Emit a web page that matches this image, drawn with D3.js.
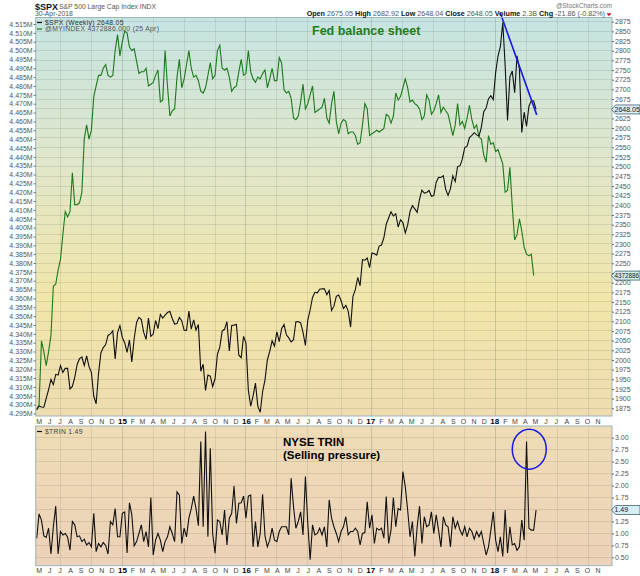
<!DOCTYPE html>
<html>
<head>
<meta charset="utf-8">
<title>$SPX vs Fed balance sheet</title>
<style>
  body { margin: 0; background: #fff; }
  svg { display: block; font-family: "Liberation Sans", Arial, sans-serif; }
</style>
</head>
<body>
<svg width="640" height="576"></svg>
<script src="https://cdn.jsdelivr.net/npm/d3@7"></script>
<script>
// weekly closes, S&P 500 (25 Apr 2014 .. week of 30 Apr 2018)
var spx = [
  1872, 1881.14, 1878.48, 1877.86, 1900.53, 1923.57, 1949.44, 1936.16, 1962.87, 1960.96,
  1985.44, 1967.57, 1978.22, 1978.34, 1925.15, 1931.59, 1955.06, 1988.40, 2003.37, 2007.71,
  1985.54, 2010.40, 1982.85, 1967.90, 1906.13, 1886.76, 1964.58, 2018.05, 2031.92, 2039.82,
  2063.50, 2067.56, 2075.37, 2002.33, 2070.65, 2088.77, 2058.20, 2044.81, 2019.42, 2051.82,
  1994.99, 2055.47, 2096.99, 2110.30, 2104.50, 2071.26, 2053.40, 2108.10, 2061.02, 2066.96,
  2102.06, 2081.18, 2117.69, 2108.29, 2116.10, 2122.73, 2126.06, 2107.39, 2092.83, 2094.11,
  2109.99, 2101.49, 2076.78, 2076.62, 2126.64, 2079.65, 2103.84, 2077.57, 2091.54, 1970.89,
  1988.87, 1921.22, 1961.05, 1958.03, 1931.34, 1951.36, 2014.89, 2033.11, 2075.15, 2079.36,
  2099.20, 2023.04, 2089.17, 2090.11, 2091.69, 2012.37, 2005.55, 2060.99, 2043.94, 1922.03,
  1880.33, 1906.90, 1940.24, 1880.05, 1864.78, 1917.78, 1948.05, 1999.99, 2022.19, 2049.58,
  2035.94, 2072.78, 2047.60, 2080.73, 2091.58, 2065.30, 2057.14, 2046.61, 2052.32, 2099.06,
  2099.13, 2096.07, 2071.22, 2037.41, 2102.95, 2129.90, 2161.74, 2175.03, 2173.60, 2182.87,
  2184.05, 2183.87, 2169.04, 2179.98, 2127.81, 2139.16, 2164.69, 2168.27, 2153.74, 2132.98,
  2141.16, 2126.41, 2085.18, 2164.45, 2181.90, 2213.35, 2191.95, 2259.53, 2258.07, 2263.79,
  2238.83, 2276.98, 2274.64, 2271.31, 2294.69, 2297.42, 2316.10, 2351.16, 2367.34, 2383.12,
  2372.60, 2378.25, 2343.98, 2362.72, 2355.54, 2328.95, 2348.69, 2384.20, 2399.29, 2390.90,
  2381.73, 2415.82, 2439.07, 2431.77, 2433.15, 2438.30, 2423.41, 2425.18, 2459.27, 2472.54,
  2472.10, 2476.83, 2441.32, 2425.55, 2443.05, 2476.55, 2461.43, 2500.23, 2502.22, 2519.36,
  2549.33, 2553.17, 2575.21, 2581.07, 2587.84, 2582.30, 2578.85, 2602.42, 2642.22, 2651.50,
  2675.81, 2683.34, 2673.61, 2743.15, 2786.24, 2810.30, 2872.87, 2762.13, 2619.55, 2732.22,
  2747.30, 2691.25, 2786.57, 2752.01, 2588.26, 2640.87, 2604.47, 2656.30, 2670.14, 2669.91,
  2648.05
];

// @MYINDEX, Fed total assets, thousands of millions (last = 25 Apr 2018)
var fed = [
  4297, 4300, 4336, 4330, 4322, 4330, 4339, 4367, 4368, 4376,
  4382, 4396, 4409, 4406, 4409, 4431, 4413, 4413, 4414, 4420,
  4450, 4458, 4450, 4455, 4474, 4480, 4486, 4486, 4490, 4492,
  4486, 4485, 4486, 4500, 4509, 4497, 4505, 4511, 4510, 4502,
  4500, 4501, 4494, 4487, 4488, 4488, 4490, 4480, 4481, 4482,
  4486, 4489, 4471, 4472, 4500, 4480, 4463, 4466, 4467, 4485,
  4495, 4479, 4484, 4492, 4500, 4490, 4485, 4486, 4483, 4477,
  4476, 4479, 4486, 4493, 4484, 4486, 4500, 4503, 4490, 4489,
  4490, 4485, 4477, 4479, 4480, 4488, 4495, 4486, 4487, 4500,
  4488, 4484, 4482, 4485, 4484, 4487, 4489, 4479, 4484, 4490,
  4483, 4483, 4496, 4493, 4478, 4476, 4477, 4473, 4462, 4461,
  4463, 4471, 4481, 4467, 4470, 4475, 4480, 4465, 4466, 4467,
  4468, 4473, 4462, 4459, 4470, 4477, 4460, 4453, 4459, 4461,
  4460, 4453, 4454, 4454, 4452, 4447, 4448, 4458, 4470, 4467,
  4452, 4453, 4454, 4455, 4454, 4455, 4456, 4464, 4463, 4459,
  4463, 4476, 4472, 4474, 4479, 4484, 4479, 4471, 4472, 4470,
  4469, 4467, 4461, 4463, 4475, 4472, 4464, 4466, 4470, 4475,
  4465, 4468, 4466, 4464, 4458, 4452, 4458, 4470, 4458, 4460,
  4456, 4462, 4469, 4461, 4456, 4458, 4451, 4450, 4441, 4437,
  4452, 4447, 4448, 4443, 4444, 4440, 4436, 4420, 4421, 4434,
  4412, 4393, 4396, 4405, 4398, 4389, 4385, 4384, 4385, 4372.886
];

// $TRIN weekly
var trin = [
  0.90, 1.41, 1.28, 0.95, 0.92, 1.11, 0.57, 1.14, 1.57, 0.57,
  1.04, 0.97, 1.00, 0.92, 0.65, 1.25, 1.18, 0.93, 0.95, 0.83,
  0.88, 0.76, 0.81, 0.72, 1.42, 0.62, 0.79, 0.72, 0.81, 0.75,
  0.57, 1.25, 1.18, 1.52, 0.93, 0.93, 1.42, 1.45, 0.59, 1.64,
  1.39, 0.74, 0.83, 1.00, 1.18, 0.83, 1.04, 0.72, 1.75, 0.55,
  0.86, 1.00, 0.86, 0.62, 0.83, 0.93, 1.14, 1.00, 0.83, 1.87,
  1.80, 0.79, 1.11, 0.93, 1.32, 1.52, 1.78, 1.52, 1.16, 2.92,
  1.14, 3.13, 0.93, 2.78, 1.00, 0.59, 1.28, 1.25, 0.97, 1.49,
  0.76, 1.32, 1.42, 1.99, 1.21, 1.63, 1.64, 1.78, 1.32, 1.78,
  1.80, 0.72, 1.25, 0.72, 1.00, 1.82, 0.95, 0.72, 0.86, 1.11,
  0.86, 0.83, 1.04, 1.14, 1.14, 1.14, 0.97, 2.15, 1.56, 1.11,
  1.25, 1.45, 0.97, 2.19, 1.21, 0.45, 1.18, 0.97, 1.00,
  1.11, 0.97, 1.14, 0.72, 1.70, 1.32, 1.14, 1.00, 0.83, 1.04,
  1.14, 1.35, 0.97, 1.04, 1.04, 1.11, 1.04, 0.76, 1.00, 1.02,
  1.66, 1.11, 1.39, 0.79, 1.11, 1.07, 1.11, 0.90, 1.77, 0.79,
  1.07, 1.75, 1.14, 1.52, 1.49, 2.29, 1.98, 1.49, 0.93, 1.25,
  0.52, 1.14, 1.57, 0.79, 1.35, 1.14, 1.18, 1.45, 1.00, 1.39,
  1.07, 0.72, 1.35, 1.18, 1.14, 0.72, 1.35, 1.11, 1.25, 1.07,
  0.97, 1.14, 0.93, 1.11, 1.04, 0.88, 1.04, 0.93, 1.04, 0.79,
  0.55, 0.72, 1.07, 1.45, 0.86, 0.62, 0.93, 0.52, 1.49, 0.59,
  1.14, 0.76, 0.79, 0.65, 0.72, 1.28, 0.86, 2.92, 1.11, 1.07,
  1.07, 1.49
];

var quote = [["Open", "2675.05"], ["High", "2682.92"], ["Low", "2648.04"],
             ["Close", "2648.05"], ["Volume", "2.3B"], ["Chg", "-21.86 (-0.82%)"]];

var spxTicks = d3.range(1875, 2876, 25);
var fedTicks = d3.range(4295, 4516, 5);
var trinTicks = d3.range(0.5, 3.01, 0.25);

// blue trend line on $SPX, blue circle round the TRIN spike
var trend = [{date: new Date(2018, 0, 19), v: 2897}, {date: new Date(2018, 4, 6), v: 2634}];
var spike = {date: new Date(2018, 3, 14), v: 2.76};

var weeks = d3.timeFriday.range(new Date(2014, 3, 25), new Date(2018, 4, 5));
var months = d3.timeMonth.range(new Date(2014, 4, 1), new Date(2018, 11, 1));
var quarters = d3.timeMonth.every(3).range(new Date(2014, 6, 1), new Date(2018, 11, 1));

var svg = d3.select("svg"),
  L = 35.7, R = 612,
  upper = {y0: 17.5, y1: 416},
  lower = {y0: 426, y1: 565.7};

var x = d3.scaleTime().domain([weeks[0], weeks[208]]).range([36.7, 531.3]);
var ySpx = d3.scaleLinear().domain([1875, 2875]).range([408.3, 21.7]);
var yFed = d3.scaleLinear().domain([4295, 4515]).range([413.5, 24]);
var yTrin = d3.scaleLinear().domain([0.5, 3]).range([557.4, 437.7]);

var lastSpx = spx[spx.length - 1], lastFed = fed[fed.length - 1], lastTrin = trin[trin.length - 1];

var defs = svg.append("defs");
function grad(id, stops) {
  var g = defs.append("linearGradient").attr("id", id)
    .attr("x1", 0).attr("y1", 0).attr("x2", 0).attr("y2", 1);
  stops.forEach(function(s) {
    g.append("stop").attr("offset", s[0]).attr("stop-color", s[1]);
  });
}
grad("bgUp", [[0, "#c6e4e2"], [0.35, "#dfe6cb"], [0.7, "#f1e6aa"], [1, "#eedcb0"]]);
grad("bgLow", [[0, "#efdcb6"], [1, "#ecd2b8"]]);

svg.append("rect").attr("x", L).attr("y", upper.y0).attr("width", R - L)
  .attr("height", upper.y1 - upper.y0).attr("fill", "url(#bgUp)");
svg.append("rect").attr("x", L).attr("y", lower.y0).attr("width", R - L)
  .attr("height", lower.y1 - lower.y0).attr("fill", "url(#bgLow)");

// grid
var grid = svg.append("g").attr("stroke-width", 1).attr("shape-rendering", "crispEdges");
grid.selectAll(".hu").data(spxTicks).enter().append("line")
  .attr("x1", L).attr("x2", R)
  .attr("y1", function(d) { return ySpx(d); }).attr("y2", function(d) { return ySpx(d); })
  .attr("stroke", "#000").attr("stroke-opacity", 0.09);
grid.selectAll(".hl").data(trinTicks).enter().append("line")
  .attr("x1", L).attr("x2", R)
  .attr("y1", function(d) { return yTrin(d); }).attr("y2", function(d) { return yTrin(d); })
  .attr("stroke", "#000").attr("stroke-opacity", 0.09);
quarters.forEach(function(m) {
  var xx = x(d3.timeFriday.ceil(m));
  var op = m.getMonth() == 0 ? 0.22 : 0.13;
  [upper, lower].forEach(function(p) {
    grid.append("line").attr("x1", xx).attr("x2", xx).attr("y1", p.y0).attr("y2", p.y1)
      .attr("stroke", "#4a5a3a").attr("stroke-opacity", op);
  });
});

// lines
var lineSpx = d3.line().x(function(d, i) { return x(weeks[i]); }).y(function(d) { return ySpx(d); });
var lineFed = d3.line().x(function(d, i) { return x(weeks[i]); }).y(function(d) { return yFed(d); });
var lineTrin = d3.line().x(function(d, i) { return x(weeks[i]); }).y(function(d) { return yTrin(d); });

svg.append("path").attr("d", lineFed(fed)).attr("fill", "none")
  .attr("stroke", "#1c7a1c").attr("stroke-width", 1.1);
svg.append("path").attr("d", lineSpx(spx)).attr("fill", "none")
  .attr("stroke", "#111").attr("stroke-width", 1.1);
svg.append("path").attr("d", lineTrin(trin)).attr("fill", "none")
  .attr("stroke", "#111").attr("stroke-width", 1.1);

svg.append("line")
  .attr("x1", x(trend[0].date)).attr("y1", ySpx(trend[0].v))
  .attr("x2", x(trend[1].date)).attr("y2", ySpx(trend[1].v))
  .attr("stroke", "#1a1ae6").attr("stroke-width", 1.6);
svg.append("ellipse")
  .attr("cx", x(spike.date)).attr("cy", yTrin(spike.v)).attr("rx", 17).attr("ry", 20)
  .attr("fill", "none").attr("stroke", "#1a1ae6").attr("stroke-width", 1.5);

// panel borders
[upper, lower].forEach(function(p) {
  svg.append("rect").attr("x", L).attr("y", p.y0).attr("width", R - L).attr("height", p.y1 - p.y0)
    .attr("fill", "none").attr("stroke", "#9db3bd").attr("stroke-width", 1);
});

// axes; the value tags cover the tick label they sit on
function styleAxis(scale, tagValue) {
  return function(g) {
    g.select(".domain").remove();
    g.selectAll(".tick line").attr("stroke", "#666");
    g.selectAll("text").attr("fill", "#555").style("font-size", "7px");
    if (tagValue != null) {
      g.selectAll(".tick").filter(function(d) { return Math.abs(scale(d) - scale(tagValue)) < 6; })
        .select("text").remove();
    }
  };
}
svg.append("g").attr("transform", "translate(" + L + ",0)")
  .call(d3.axisLeft(yFed).tickValues(fedTicks).tickSize(2).tickPadding(1)
    .tickFormat(function(d) { return (d / 1000).toFixed(3) + "M"; }))
  .call(styleAxis(yFed, null));
svg.append("g").attr("transform", "translate(" + R + ",0)")
  .call(d3.axisRight(ySpx).tickValues(spxTicks).tickSize(2).tickPadding(1).tickFormat(d3.format("d")))
  .call(styleAxis(ySpx, lastSpx))
  .call(function(g) {
    var yf = yFed(lastFed);
    g.selectAll(".tick").filter(function(d) { return Math.abs(ySpx(d) - yf) < 6; })
      .select("text").remove();
  });
svg.append("g").attr("transform", "translate(" + R + ",0)")
  .call(d3.axisRight(yTrin).tickValues(trinTicks).tickSize(2).tickPadding(1).tickFormat(d3.format(".2f")))
  .call(styleAxis(yTrin, lastTrin));

// month labels under each panel
[upper.y1 + 8, lower.y1 + 7.5].forEach(function(yy) {
  svg.append("g").attr("transform", "translate(0," + yy + ")")
    .call(d3.axisBottom(x).tickValues(months).tickSize(0).tickPadding(0)
      .tickFormat(function(d) {
        return d.getMonth() == 0 ? d3.timeFormat("%y")(d) : d3.timeFormat("%b")(d).charAt(0);
      }))
    .call(function(g) {
      g.select(".domain").remove();
      g.selectAll("text").attr("fill", "#444").style("font-size", "7px").attr("dy", 0)
        .filter(function(d) { return d.getMonth() == 0; })
        .attr("fill", "#000").style("font-weight", "bold").style("font-size", "8px");
    });
});

// value tags on the right
function tag(yy, label, fill, size) {
  svg.append("path")
    .attr("d", "M" + (R - 0.5) + "," + yy + "L" + (R + 3.5) + "," + (yy - 4.5) + "L640," + (yy - 4.5) +
      "L640," + (yy + 4.5) + "L" + (R + 3.5) + "," + (yy + 4.5) + "Z")
    .attr("fill", fill).attr("stroke", "#2a4a5a").attr("stroke-width", 0.7);
  svg.append("text").attr("x", R + 2.5).attr("y", yy + 2.4).text(label)
    .style("font-size", size + "px").attr("fill", "#102030");
}
tag(ySpx(lastSpx), d3.format(".2f")(lastSpx), "#d6eef4", 7);
tag(yFed(lastFed), String(Math.round(lastFed * 1000)), "#cdeee6", 6.3);
tag(yTrin(lastTrin), d3.format(".2f")(lastTrin), "#d6eef4", 7);

// legends
function legend(yy, color, label, textColor) {
  svg.append("line").attr("x1", 37).attr("x2", 42).attr("y1", yy - 2).attr("y2", yy - 2)
    .attr("stroke", color).attr("stroke-width", 1.2);
  svg.append("text").attr("x", 45).attr("y", yy).text(label)
    .style("font-size", "6.8px").style("letter-spacing", "0.3px").attr("fill", textColor);
}
legend(24.5, "#111", "$SPX (Weekly) " + d3.format(".2f")(lastSpx), "#333");
legend(31, "#1c7a1c", "@MYINDEX " + Math.round(lastFed * 1000) + ".000 (25 Apr)", "#555");
legend(433.5, "#111", "$TRIN " + d3.format(".2f")(lastTrin), "#444");

// header
svg.append("text").attr("x", 35).attr("y", 9.5).text("$SPX")
  .style("font-size", "9px").style("font-weight", "bold").attr("fill", "#111");
svg.append("text").attr("x", 59).attr("y", 9).text("S&P 500 Large Cap Index  INDX")
  .style("font-size", "6.8px").attr("fill", "#555");
svg.append("text").attr("x", 35).attr("y", 16.3).text("30-Apr-2018")
  .style("font-size", "6.8px").attr("fill", "#555");
svg.append("text").attr("x", R).attr("y", 7.5).attr("text-anchor", "end").text("@StockCharts.com")
  .style("font-size", "6.5px").attr("fill", "#777");

var hdr = svg.append("text").attr("x", 605).attr("y", 16.3).attr("text-anchor", "end")
  .style("font-size", "7.2px");
quote.forEach(function(q, i) {
  hdr.append("tspan").text((i ? "  " : "") + q[0]).style("font-weight", "bold").attr("fill", "#111");
  hdr.append("tspan").text(" " + q[1]).attr("fill", "#555");
});
svg.append("path").attr("d", "M606.5,13.2L611.5,13.2L609,16.2Z").attr("fill", "#c0102a");

// annotations
svg.append("text").attr("x", 312).attr("y", 35).text("Fed balance sheet")
  .style("font-size", "12.5px").style("font-weight", "bold").attr("fill", "#1d7d1d");
svg.append("text").attr("x", 283).attr("y", 446).text("NYSE TRIN")
  .style("font-size", "11.5px").style("font-weight", "bold").attr("fill", "#000");
svg.append("text").attr("x", 283).attr("y", 458.5).text("(Selling pressure)")
  .style("font-size", "11.5px").style("font-weight", "bold").attr("fill", "#000");
</script>
</body>
</html>
